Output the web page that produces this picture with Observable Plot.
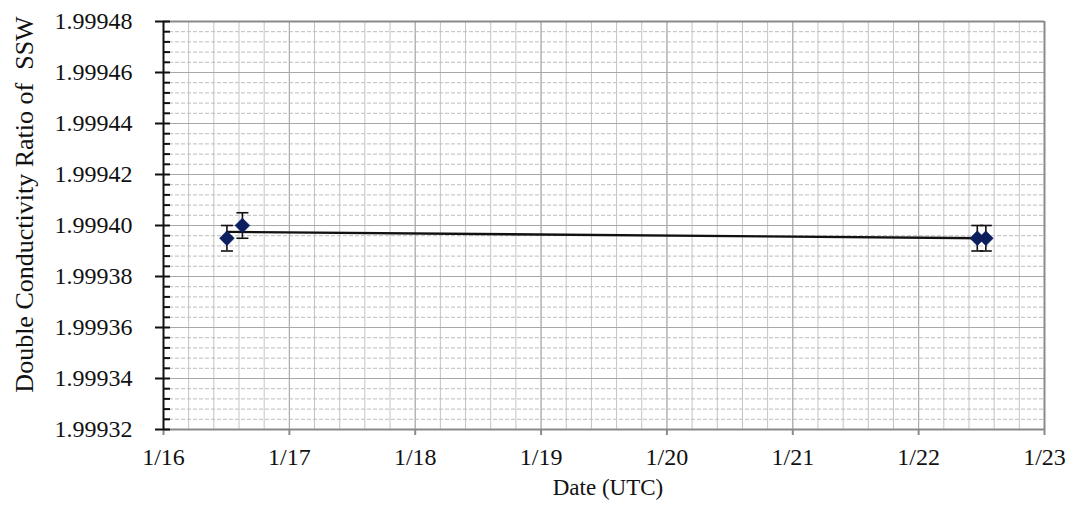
<!DOCTYPE html>
<html>
<head>
<meta charset="utf-8">
<script src="https://cdn.jsdelivr.net/npm/d3@7"></script>
<script src="https://cdn.jsdelivr.net/npm/@observablehq/plot@0.6"></script>
<style>
  html, body { margin: 0; padding: 0; background: #fff; }
  svg text { font-family: "Liberation Serif", "DejaVu Serif", serif; }
</style>
</head>
<body>
<div id="chart"></div>
<script>
// ---- data ----
const dateTicks = [16, 17, 18, 19, 20, 21, 22, 23];            // day of January (UTC)
const dateLabels = ["1/16", "1/17", "1/18", "1/19", "1/20", "1/21", "1/22", "1/23"];
const ratioTicks = [1.99932, 1.99934, 1.99936, 1.99938, 1.99940, 1.99942, 1.99944, 1.99946, 1.99948];
const obsDay = [16.504, 16.627, 22.466, 22.534];
const obsRatio = [1.999395, 1.999400, 1.999395, 1.999395];
const obsError = [0.000005, 0.000005, 0.000005, 0.000005];
const xTitle = "Date (UTC)";
const yTitle = "Double Conductivity Ratio of\u00a0 SSW";

const data = obsDay.map((d, i) => ({
  day: d,
  ratio: obsRatio[i],
  lo: obsRatio[i] - obsError[i],
  hi: obsRatio[i] + obsError[i]
}));

// minor grid positions (5 subdivisions per major step)
const minorX = d3.range(0, 36).map(i => 16 + i * 0.2);
const minorY = d3.range(0, 41).map(i => 1.99932 + i * 0.000004);

// error-bar cap drawn as a short horizontal stroke
const capSymbol = {
  draw(ctx, size) {
    const r = Math.sqrt(size / Math.PI);
    ctx.moveTo(-r, 0);
    ctx.lineTo(r, 0);
  }
};

const W = 1075, H = 517, ML = 163, MR = 31, MT = 21, MB = 88;
const font = "Liberation Serif";

const chart = Plot.plot({
  width: W,
  height: H,
  marginLeft: ML,
  marginRight: MR,
  marginTop: MT,
  marginBottom: MB,
  style: { fontFamily: font, background: "#fff", color: "#111", overflow: "visible" },
  x: { domain: [16, 23] },
  y: { domain: [1.99932, 1.99948] },
  marks: [
    // minor grid
    Plot.gridX(minorX, { stroke: "#c4c4c4", strokeOpacity: 1, strokeWidth: 1 }),
    Plot.gridY(minorY, { stroke: "#bdbdbd", strokeOpacity: 1, strokeWidth: 1, strokeDasharray: "4,2" }),
    // major grid
    Plot.gridX(dateTicks, { stroke: "#a8a8a8", strokeOpacity: 1, strokeWidth: 1 }),
    Plot.gridY(ratioTicks, { stroke: "#a8a8a8", strokeOpacity: 1, strokeWidth: 1 }),
    // frame
    Plot.ruleY([1.99948], { stroke: "#8a8a8a", strokeWidth: 2 }),
    Plot.ruleX([23], { stroke: "#8a8a8a", strokeWidth: 2 }),
    Plot.ruleY([1.99932], { stroke: "#8a8a8a", strokeWidth: 2 }),
    // axes
    Plot.axisX(dateTicks, {
      tickSize: 6, tickPadding: 12,
      tickFormat: d => dateLabels[dateTicks.indexOf(d)],
      fontSize: 24, fontFamily: font, stroke: "#8a8a8a", strokeWidth: 2, fill: "#111", label: null
    }),
    Plot.axisY(ratioTicks, {
      tickSize: 8, tickPadding: 23,
      tickFormat: d3.format(".5f"),
      fontSize: 24, fontFamily: font, stroke: "#111", strokeWidth: 2, fill: "#111", label: null
    }),
    // inward minor ticks on the value axis
    Plot.tickY(minorY, { stroke: "#111", strokeWidth: 2, insetRight: W - ML - MR - 7 }),
    Plot.ruleX([16], { stroke: "#111", strokeWidth: 2 }),
    // trend line
    Plot.linearRegressionY(data, { x: "day", y: "ratio", ci: 0, stroke: "#111", strokeWidth: 2.4 }),
    // error bars
    Plot.ruleX(data, { x: "day", y1: "lo", y2: "hi", stroke: "#111", strokeWidth: 1.6 }),
    Plot.dot(data, { x: "day", y: "hi", symbol: capSymbol, r: 6, stroke: "#111", strokeWidth: 1.6, fill: "none" }),
    Plot.dot(data, { x: "day", y: "lo", symbol: capSymbol, r: 6, stroke: "#111", strokeWidth: 1.6, fill: "none" }),
    // markers
    Plot.dot(data, { x: "day", y: "ratio", symbol: "diamond2", r: 6.7, fill: "#0b1f5e", stroke: "#0b1f5e", strokeWidth: 0.5 }),
    // titles
    Plot.text([xTitle], { text: d => d, frameAnchor: "bottom", textAnchor: "middle", dx: 4, dy: 58, lineAnchor: "middle", fontSize: 23, fontFamily: font, fill: "#111" }),
    Plot.text([yTitle], { text: d => d, frameAnchor: "left", textAnchor: "middle", rotate: -90, dx: -139, dy: -21, lineAnchor: "middle", fontSize: 26, fontFamily: font, fill: "#111" })
  ]
});

document.getElementById("chart").appendChild(chart);
</script>
</body>
</html>
